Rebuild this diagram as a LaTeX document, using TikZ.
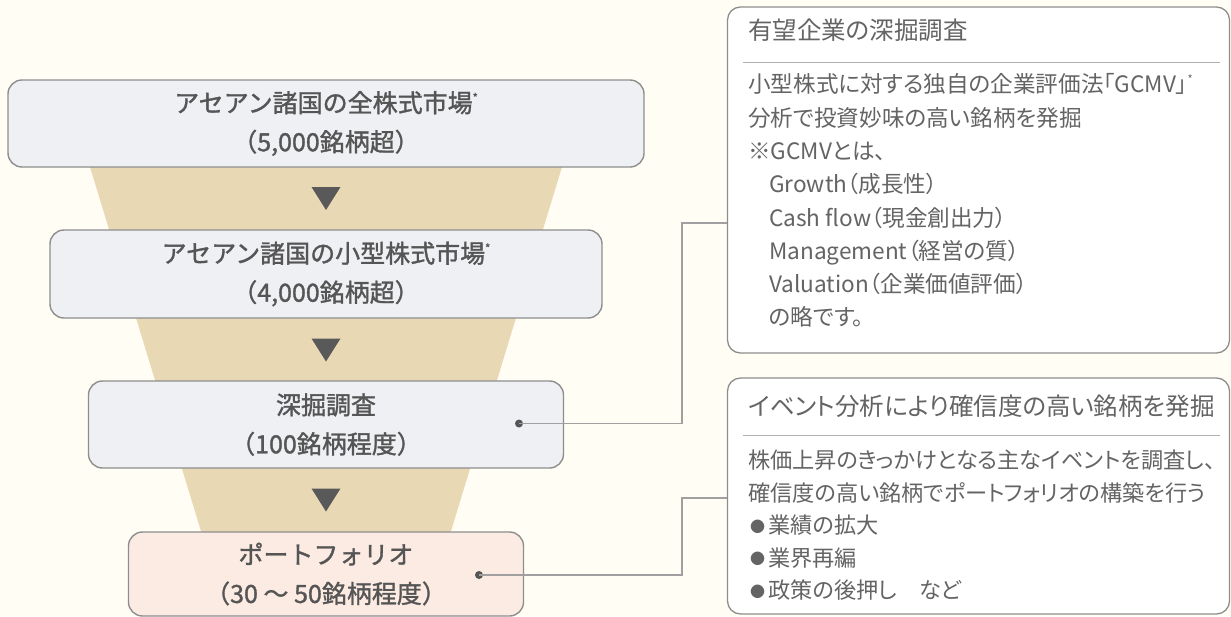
\documentclass[tikz,border=0pt]{standalone}
\usepackage{fontspec}
\setmainfont[RawFeature=+palt]{Noto Sans CJK JP}
\newfontfamily\jpmed[FakeBold=1.3]{Noto Sans CJK JP}
\definecolor{bgc}{HTML}{FFFDF4}
\definecolor{funnelc}{HTML}{E9D8B4}
\definecolor{boxfill}{HTML}{EFF0F3}
\definecolor{pinkfill}{HTML}{FCEBE3}
\definecolor{boxline}{HTML}{8E8E8E}
\definecolor{txt}{HTML}{555555}
\definecolor{txtb}{HTML}{646464}
\definecolor{tric}{HTML}{595959}
\definecolor{connc}{HTML}{A0A0A0}
\definecolor{dotc}{HTML}{555555}
\newcommand\smallast{\raisebox{0.42em}{\fontsize{11}{11}\selectfont *}}
\newcommand\smallbullet{\raisebox{0.08em}{\fontsize{15}{15}\selectfont ●}\hspace{3pt}}
\tikzset{
  stagebox/.style={draw=boxline, line width=1.4pt, rounded corners=14pt, fill=boxfill,
    align=center, text=txt, font=\jpmed\fontsize{25}{39}\selectfont, inner sep=0pt},
  panelbox/.style={draw=boxline, line width=1.3pt, rounded corners=13pt, fill=white, inner sep=0pt},
  ptitle/.style={anchor=west, inner sep=0pt, text=txtb, font=\fontsize{24.5}{24.5}\selectfont,
    text height=0.88em, text depth=0.12em},
  pbody/.style={anchor=west, inner sep=0pt, text=txtb, font=\fontsize{22.6}{22.6}\selectfont,
    text height=0.88em, text depth=0.12em},
  pbodyb/.style={pbody, font=\fontsize{22.2}{22.2}\selectfont},
  seprule/.style={draw=boxline!70, line width=1pt},
  tri/.style={fill=tric},
  conn/.style={draw=connc, line width=1.3pt},
  dotn/.style={circle, fill=dotc, inner sep=0pt, minimum size=8pt},
}
\begin{document}
\begin{tikzpicture}[x=1pt,y=-1pt]
\useasboundingbox (0,0) rectangle (1231,616);
\fill[bgc] (0,0) rectangle (1231,616);
% funnel
\fill[funnelc] (69.6,100) -- (582.4,100) -- (430,600) -- (222,600) -- cycle;
% stages
\node[stagebox, minimum width=636pt, minimum height=87pt] (s1) at (326,123.5)
  {アセアン諸国の全株式市場\smallast\\（5,000銘柄超）};
\node[stagebox, minimum width=552pt, minimum height=88pt] (s2) at (326,274)
  {アセアン諸国の小型株式市場\smallast\\（4,000銘柄超）};
\node[stagebox, minimum width=475pt, minimum height=87pt] (s3) at (326,424.5)
  {深掘調査\\（100銘柄程度）};
\node[stagebox, fill=pinkfill, minimum width=395pt, minimum height=84pt] (s4) at (326,574)
  {ポートフォリオ\\（30 ～ 50銘柄程度）};
% triangles
\fill[tri] (311.5,187) -- (340.5,187) -- (326,210) -- cycle;
\fill[tri] (311.5,338.5) -- (340.5,338.5) -- (326,361.5) -- cycle;
\fill[tri] (311.5,488.5) -- (340.5,488.5) -- (326,511.5) -- cycle;
% panels
\node[panelbox, minimum width=502pt, minimum height=346pt] (pA) at (978.5,180) {};
\node[panelbox, minimum width=502pt, minimum height=236pt] (pB) at (978.5,496) {};
% panel A text
\node[ptitle] (tA) at (748,36) {有望企業の深掘調査};
\draw[seprule] (743,62) -- (1220,62);
\node[pbody] (a1) at (748,89) {小型株式に対する独自の企業評価法「GCMV」\smallast};
\node[pbody] (a2) at (748,122.3) {分析で投資妙味の高い銘柄を発掘};
\node[pbody] (a3) at (748,155.6) {※GCMVとは、};
\node[pbody] (a4) at (769,188.9) {Growth（成長性）};
\node[pbody] (a5) at (769,222.2) {Cash flow（現金創出力）};
\node[pbody] (a6) at (769,255.5) {Management（経営の質）};
\node[pbody] (a7) at (769,288.8) {Valuation（企業価値評価）};
\node[pbody] (a8) at (769,322.1) {の略です。};
% panel B text
\node[ptitle] (tB) at (748,412) {イベント分析により確信度の高い銘柄を発掘};
\draw[seprule] (743,435) -- (1220,435);
\node[pbodyb] (b1) at (748,465) {株価上昇のきっかけとなる主なイベントを調査し、};
\node[pbodyb] (b2) at (748,497.5) {確信度の高い銘柄でポートフォリオの構築を行う};
\node[pbodyb] (b3) at (750,530) {\smallbullet 業績の拡大};
\node[pbodyb] (b4) at (750,562.5) {\smallbullet 業界再編};
\node[pbodyb] (b5) at (750,595) {\smallbullet 政策の後押し　など};
% connectors
\node[dotn] (d3) at (519,423.5) {};
\node[dotn] (d4) at (479,575) {};
\coordinate (jA) at (682,223);
\coordinate (jB) at (682,498);
\draw[conn] (d3.center) -| (jA) -- (pA.west |- jA);
\draw[conn] (d4.center) -| (jB) -- (pB.west |- jB);
\end{tikzpicture}
\end{document}
